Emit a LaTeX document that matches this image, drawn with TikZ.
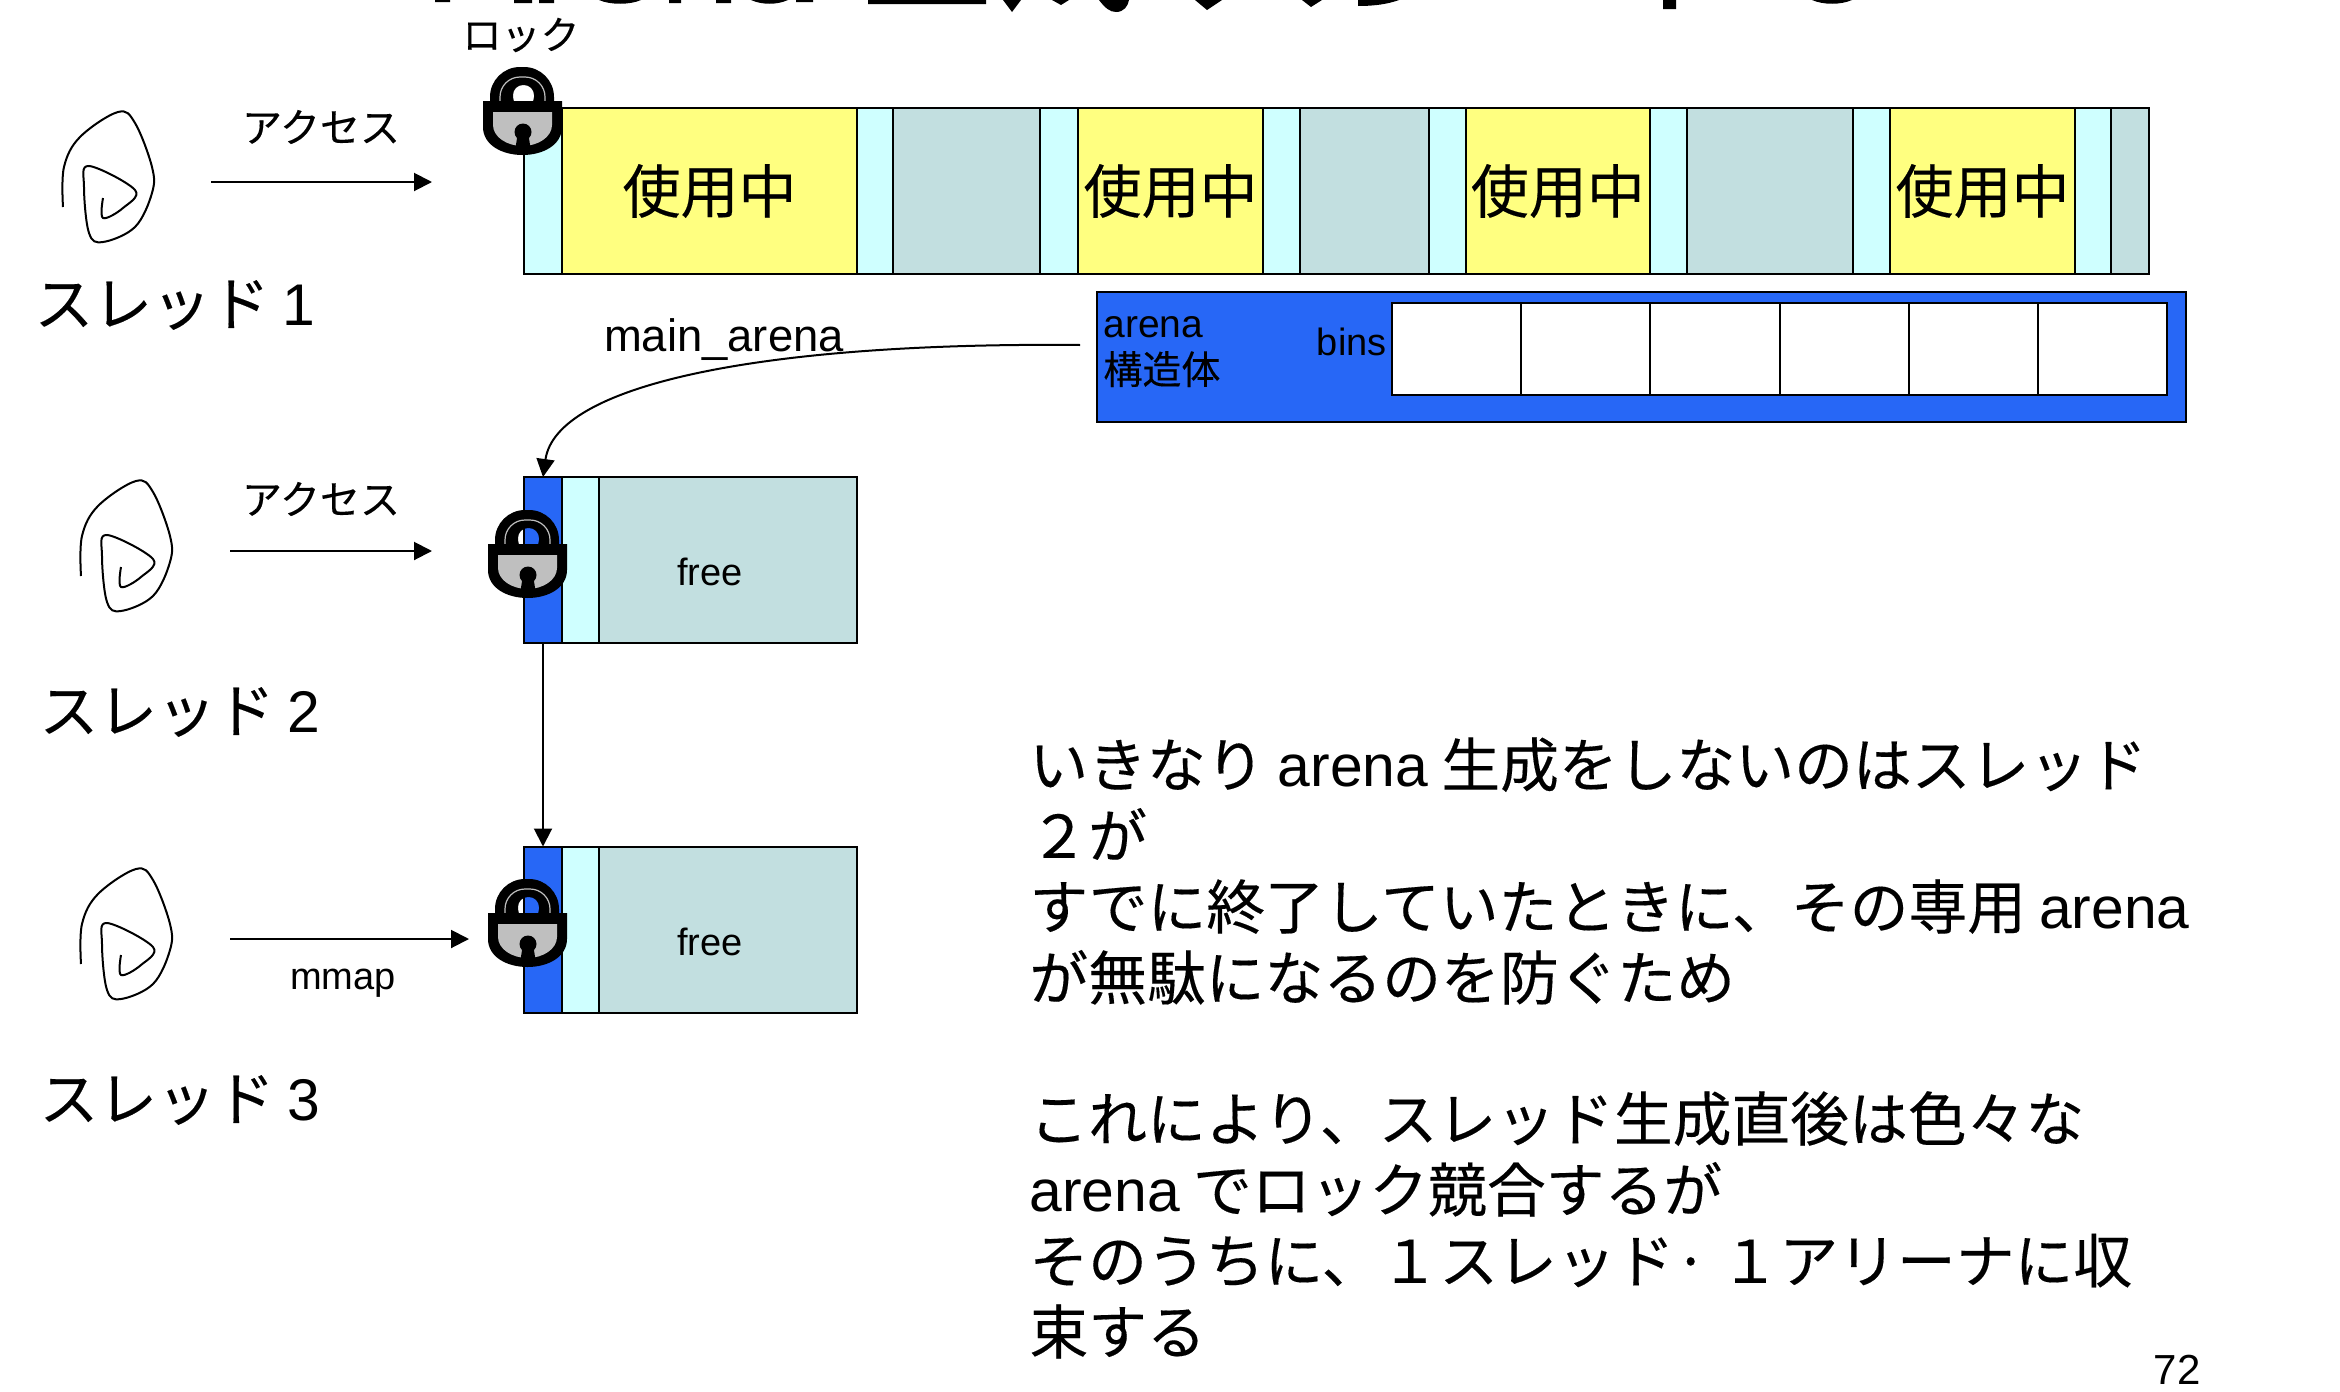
\documentclass[tikz,border=0pt]{standalone}
\usepackage{fontspec}
\setmainfont[FakeBold=0.25]{Noto Sans CJK JP}
\newfontfamily\arial{Liberation Sans}
\usepackage{xcolor}
\usetikzlibrary{arrows.meta,positioning}

\definecolor{hdrcyan}{HTML}{CFFFFF}
\definecolor{busyyellow}{HTML}{FFFF80}
\definecolor{idleteal}{HTML}{C2DFE0}
\definecolor{arenablue}{HTML}{2767F6}
\definecolor{lockgrey}{HTML}{BFBFBF}

\newcommand{\inuse}{\raisebox{-1.5pt}{使用中}}

\begin{document}
\begin{tikzpicture}[
  x=0.5pt, y=-0.5pt,
  cell/.style={draw, line width=1pt, minimum height=83pt, inner sep=0pt, outer sep=0pt},
  hdr/.style={cell, fill=hdrcyan, minimum width=18.5pt},
  busy/.style={cell, fill=busyyellow, minimum width=92.5pt,
    font=\fontsize{29}{31}\selectfont},
  idle/.style={cell, fill=idleteal},
  head/.style={cell, fill=arenablue, minimum width=19pt},
  slot/.style={draw, line width=1pt, fill=white, minimum height=46pt,
    minimum width=64.6pt, inner sep=0pt, outer sep=0pt},
  lblsm/.style={font=\fontsize{19}{23}\selectfont, inner sep=0pt, align=left},
  lblmid/.style={font=\fontsize{20}{23}\selectfont, inner sep=0pt},
  lblbig/.style={font=\fontsize{29.4}{31}\selectfont, inner sep=0pt},
  arrow/.style={-{Triangle[length=9pt,width=9pt]}, line width=1pt},
  spiral/.style={line width=1pt},
  padlock/.pic={
    % shackle, with the hole left open
    \fill[even odd rule, rounded corners=15pt] (7,70) -- (7,0) -- (71,0) -- (71,70) -- cycle
      [rounded corners=5pt] (30,40) -- (30,18) -- (51,18) -- (51,40) -- cycle;
    \draw[lockgrey, line width=0.6pt, rounded corners=10pt] (17,34) -- (17,10) -- (62,10) -- (62,34);
    % body
    \fill (0,34) -- (79,34) -- (79,60) .. controls (79,78) and (60,88) .. (39.5,88)
      .. controls (19,88) and (0,78) .. (0,60) -- cycle;
    \fill[lockgrey] (10,45) -- (69,45) -- (69,58) .. controls (69,70) and (55,79) .. (39.5,79)
      .. controls (24,79) and (10,70) .. (10,58) -- cycle;
    \fill (40,65) circle (8.5pt * 0.5);
    \fill (35,65) -- (45,65) -- (48,84) -- (32,84) -- cycle;
  }
]
\useasboundingbox (0,0) rectangle (2340,1392);

% Title, cut off by the page edge
\fill (435,0) rectangle (450,2) (514,0) rectangle (532,3) (539,0) rectangle (554,3)
  (669,0) rectangle (681,3) (716,0) rectangle (731,3) (796,0) rectangle (813,2)
  (868,0) rectangle (986,4) (1663,0) rectangle (1676,9)
  (599,0) .. controls (610,5) and (630,5) .. (641,0) -- cycle
  (751,0) .. controls (762,5) and (777,5) .. (788,0) -- cycle
  (1812,0) .. controls (1823,5) and (1841,5) .. (1852,0) -- cycle
  (1003,0) -- (1021,0) -- (1012,12) -- cycle
  (1052,0) -- (1069,0) -- (1061,5) -- cycle
  (1099,0) .. controls (1105,8) and (1110,12) .. (1116,12) .. controls (1124,12) and (1128,6) .. (1129,0) -- cycle
  (1195,0) -- (1222,0) -- (1207,10) -- cycle
  (1302,0) -- (1322,0) -- (1311,7) -- cycle
  (1358,0) -- (1399,0) .. controls (1388,4) and (1375,6) .. (1358,6) -- cycle;

% Main heap
\node[hdr, minimum width=19pt, anchor=west] (h1) at (524,191) {};
\node[busy, minimum width=147.5pt, right=0pt of h1] (u1) {\inuse};
\node[hdr, minimum width=18pt, right=0pt of u1] (h2) {};
\node[idle, minimum width=73.5pt, right=0pt of h2] (f1) {};
\node[hdr, minimum width=19pt, right=0pt of f1] (h3) {};
\node[busy, right=0pt of h3] (u2) {\inuse};
\node[hdr, right=0pt of u2] (h4) {};
\node[idle, minimum width=64.5pt, right=0pt of h4] (f2) {};
\node[hdr, minimum width=18.25pt, right=0pt of f2] (h5) {};
\node[busy, minimum width=92.25pt, right=0pt of h5] (u3) {\inuse};
\node[hdr, right=0pt of u3] (h6) {};
\node[idle, minimum width=83pt, right=0pt of h6] (f3) {};
\node[hdr, right=0pt of f3] (h7) {};
\node[busy, right=0pt of h7] (u4) {\inuse};
\node[hdr, minimum width=18pt, right=0pt of u4] (h8) {};
\node[idle, minimum width=19pt, right=0pt of h8] (f4) {};

% Arena struct
\node[draw, line width=1pt, fill=arenablue, minimum width=544.5pt, minimum height=65pt,
  inner sep=0pt, outer sep=0pt, anchor=north west] (arena) at (1097,292) {};
\node[slot, anchor=west] (b1) at (1392,349) {};
\node[slot, right=0pt of b1] (b2) {};
\node[slot, right=0pt of b2] (b3) {};
\node[slot, right=0pt of b3] (b4) {};
\node[slot, right=0pt of b4] (b5) {};
\node[slot, right=0pt of b5] (b6) {};
\node[lblsm, anchor=west, font=\fontsize{19.5}{23}\selectfont] (arenalbl) at (1103,352) {{\arial arena}\\構造体};
\node[lblsm, anchor=east] (binslbl) at (1387,342) {\arial bins};
\node[lblsm, anchor=center, font=\fontsize{22.7}{24}\selectfont] (mainlbl) at (724,340) {\arial main\_arena};

% Thread 2 heap
\node[head, anchor=west] (h2a) at (524,560) {};
\node[hdr, right=0pt of h2a] (h2b) {};
\node[idle, minimum width=129pt, right=0pt of h2b] (f2a) {};
\node[lblsm] (free2) at (710,572) {\arial free};

% Thread 3 heap
\node[head, anchor=west] (h3a) at (524,929.5) {};
\node[hdr, right=0pt of h3a] (h3b) {};
\node[idle, minimum width=129pt, right=0pt of h3b] (f3a) {};
\node[lblsm] (free3) at (710,942) {\arial free};

% Threads
\draw[spiral] plot[smooth, tension=0.6] coordinates {(63,207) (64,167) (80,137) (118,112) (135,123)
  (152,167) (152,193) (135,227) (103,242) (89,233) (84,187) (89,166) (135,190) (123,208) (103,218) (103,198)};
\begin{scope}[shift={(18,369)}]
\draw[spiral] plot[smooth, tension=0.6] coordinates {(63,207) (64,167) (80,137) (118,112) (135,123)
  (152,167) (152,193) (135,227) (103,242) (89,233) (84,187) (89,166) (135,190) (123,208) (103,218) (103,198)};
\end{scope}
\begin{scope}[shift={(18,757)}]
\draw[spiral] plot[smooth, tension=0.6] coordinates {(63,207) (64,167) (80,137) (118,112) (135,123)
  (152,167) (152,193) (135,227) (103,242) (89,233) (84,187) (89,166) (135,190) (123,208) (103,218) (103,198)};
\end{scope}

\node[lblbig] (t1) at (175,305) {スレッド {\arial 1}};
\node[lblbig] (t2) at (180,712) {スレッド {\arial 2}};
\node[lblbig] (t3) at (180,1100) {スレッド {\arial 3}};

% Arrows
\coordinate (a1s) at (211,182);
\coordinate (a1e) at (432,182);
\coordinate (a2s) at (230,551);
\coordinate (a2e) at (432,551);
\coordinate (a3s) at (230,939);
\coordinate (a3e) at (469,939);
\coordinate (curvestart) at (1080,345);
\draw[arrow] (a1s) -- (a1e);
\draw[arrow] (a2s) -- (a2e);
\draw[arrow] (a3s) -- (a3e);
\draw[arrow] (curvestart) .. controls (760,342) and (556,385) .. (h2a.north);
\draw[arrow] (h2a.south) -- (h3a.north);

\node[lblmid] (acc1) at (321,127) {アクセス};
\node[lblmid] (acc2) at (321,499) {アクセス};
\node[lblsm] (mmaplbl) at (343,983) {\arial mmap};
\node[lblsm, font=\fontsize{19.5}{23}\selectfont] (locklbl) at (521,35) {ロック};

% Locks
\pic at (483,67) {padlock};
\pic at (488,510) {padlock};
\pic at (488,879) {padlock};

% Note
\node[anchor=north west, inner sep=0pt, align=left, font=\fontsize{29.4}{35.5}\selectfont] (note) at (1029,737)
  {いきなり {\arial arena} 生成をしないのはスレッド\\
   ２が\\
   すでに終了していたときに、その専用 {\arial arena}\\
   が無駄になるのを防ぐため\\[35pt]
   これにより、スレッド生成直後は色々な\\
   {\arial arena} でロック競合するが\\
   そのうちに、１スレッド· １アリーナに収\\
   束する};
\node[inner sep=0pt, font=\fontsize{21}{23}\selectfont] (pageno) at (2177,1370) {\arial 72};
\end{tikzpicture}
\end{document}
